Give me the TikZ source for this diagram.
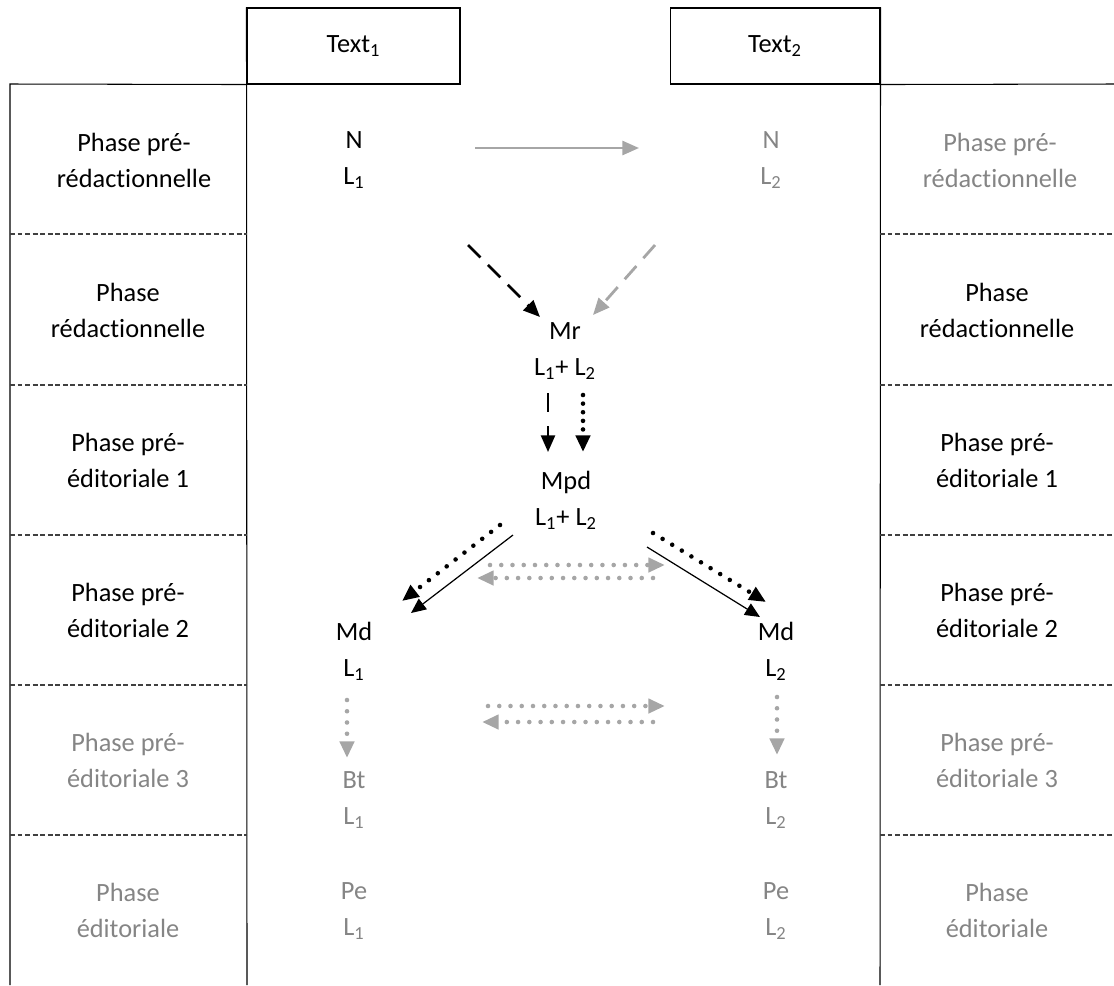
\documentclass[tikz,border=0pt]{standalone}
\usepackage{fontspec}
\setmainfont{Carlito}[Ligatures=CommonOff]
\usetikzlibrary{arrows.meta}
\definecolor{txtgray}{RGB}{133,133,133}
\definecolor{arrgray}{RGB}{166,166,166}
\begin{document}
\begin{tikzpicture}[x=0.02cm,y=-0.02cm,
  lbl/.style={align=center,inner sep=0pt,font=\fontsize{15}{20.5}\selectfont},
  pale/.style={lbl,text=txtgray},
  hdr/.style={draw,line width=0.6pt,inner sep=0pt,font=\fontsize{15}{20.5}\selectfont},
  sep/.style={line width=0.6pt,dash pattern=on 2.8pt off 1.5pt,black!75},
  dots/.style={line width=2.6pt,line cap=round,dash pattern=on 0pt off 6.4pt},
  head/.style={-{Triangle[length=9.5pt,width=8pt]}}]
\useasboundingbox (0,0) rectangle (1114,985);
\node[hdr,minimum width=4.26cm,minimum height=1.52cm] (t1) at (353.5,46) {Text\textsubscript{1}};
\node[hdr,minimum width=4.2cm,minimum height=1.52cm] (t2) at (775,46) {Text\textsubscript{2}};
\draw[line width=0.6pt] (10,985) -- (10,84) -- (t1.south west);
\draw[line width=0.6pt] (t1.north west) -- (247,985);
\draw[line width=0.6pt] (t2.north east) -- (880,985);
\draw[line width=0.6pt] (t2.south east) -- (1114,84);
\foreach \y in {234,385,535,685,835} {
  \draw[sep] (10,\y) -- (247,\y);
  \draw[sep] (880,\y) -- (1114,\y);
}

\node[lbl] (p1l) at (134,160) {Phase pré-\\rédactionnelle};
\node[lbl] (p2l) at (128,310) {Phase\\rédactionnelle};
\node[lbl] (p3l) at (128,460) {Phase pré-\\éditoriale 1};
\node[lbl] (p4l) at (128,610) {Phase pré-\\éditoriale 2};
\node[pale] (p5l) at (128,760) {Phase pré-\\éditoriale 3};
\node[pale] (p6l) at (128,910) {Phase\\éditoriale};
\node[pale] (p1r) at (1000,160) {Phase pré-\\rédactionnelle};
\node[lbl] (p2r) at (997,310) {Phase\\rédactionnelle};
\node[lbl] (p3r) at (997,460) {Phase pré-\\éditoriale 1};
\node[lbl] (p4r) at (997,610) {Phase pré-\\éditoriale 2};
\node[pale] (p5r) at (997,760) {Phase pré-\\éditoriale 3};
\node[pale] (p6r) at (997,910) {Phase\\éditoriale};

\node[lbl] (n1) at (354,160) {N\\L\textsubscript{1}};
\node[pale] (n2) at (771,160) {N\\L\textsubscript{2}};
\node[lbl] (mr) at (565,351) {Mr\\L\textsubscript{1}+ L\textsubscript{2}};
\node[lbl] (mpd) at (566,500) {Mpd\\L\textsubscript{1}+ L\textsubscript{2}};
\node[lbl] (md1) at (354,651) {Md\\L\textsubscript{1}};
\node[lbl] (md2) at (776,651) {Md\\L\textsubscript{2}};
\node[pale] (bt1) at (354,800) {Bt\\L\textsubscript{1}};
\node[pale] (bt2) at (776,800) {Bt\\L\textsubscript{2}};
\node[pale] (pe1) at (354,911) {Pe\\L\textsubscript{1}};
\node[pale] (pe2) at (776,911) {Pe\\L\textsubscript{2}};

\coordinate (a1) at (475,148);   \coordinate (a2) at (639,148);
\coordinate (b1) at (468,245);   \coordinate (b2) at (540,317);
\coordinate (c1) at (655,245);   \coordinate (c2) at (593,315);
\coordinate (d1) at (548,393);   \coordinate (d2) at (548,452);
\coordinate (e1) at (583,395);   \coordinate (e2) at (583,452);
\coordinate (f1) at (500,525);   \coordinate (f2) at (402,601);
\coordinate (g1) at (513,535);   \coordinate (g2) at (411,613);
\coordinate (h1) at (653,533);   \coordinate (h2) at (766,602);
\coordinate (i1) at (647,547);   \coordinate (i2) at (760,617);
\coordinate (j1) at (490,565);   \coordinate (j2) at (665,565);
\coordinate (k1) at (653,578);   \coordinate (k2) at (477,578);
\coordinate (l1) at (347,700);   \coordinate (l2) at (347,758);
\coordinate (m1) at (777,697);   \coordinate (m2) at (777,755);
\coordinate (o1) at (488,706);   \coordinate (o2) at (665,706);
\coordinate (q1) at (653,722);   \coordinate (q2) at (482,722);

\draw[head,arrgray,line width=1.5pt] (a1) -- (a2);
\draw[head,line width=1.6pt,dash pattern=on 10pt off 6pt] (b1) -- (b2);
\draw[head,arrgray,line width=1.6pt,dash pattern=on 10pt off 6pt] (c1) -- (c2);
\draw[head,line width=1.3pt,dash pattern=on 11pt off 8pt] (d1) -- (d2);
\draw[head,dots,dash pattern=on 0pt off 4.9pt] (e1) -- (e2);
\draw[head,dots] (f1) -- (f2);
\draw[-{Triangle[length=8.5pt,width=7.5pt]},line width=0.7pt] (g1) -- (g2);
\draw[head,dots] (h1) -- (h2);
\draw[-{Triangle[length=8.5pt,width=7.5pt]},line width=0.7pt] (i1) -- (i2);
\draw[head,dots,arrgray] (j1) -- (j2);
\draw[head,dots,arrgray] (k1) -- (k2);
\draw[head,dots,arrgray] (l1) -- (l2);
\draw[head,dots,arrgray] (m1) -- (m2);
\draw[head,dots,arrgray] (o1) -- (o2);
\draw[head,dots,arrgray] (q1) -- (q2);
\end{tikzpicture}
\end{document}
